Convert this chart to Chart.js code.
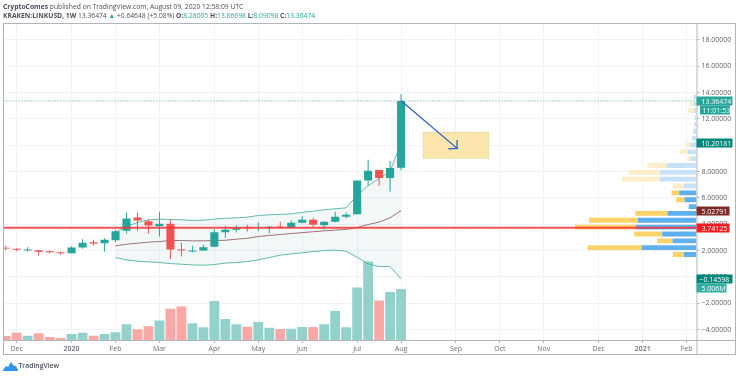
<!DOCTYPE html>
<html>
<head>
<meta charset="utf-8">
<title>KRAKEN:LINKUSD, 1W</title>
<script src="https://cdn.jsdelivr.net/npm/chart.js@4/dist/chart.umd.min.js"></script>
<style>
  html, body { margin: 0; padding: 0; background: #fff; overflow: hidden; }
  body { width: 736px; height: 376px; position: relative; font-family: "Open Sans", sans-serif; color: #4a4f5c; }
  #head1, #head2, #foot { position: absolute; white-space: nowrap; filter: blur(.3px); }
  #head1 { left: 3px; top: 1.5px; font-size: 6.75px; line-height: 10px; }
  #head2 { left: 3px; top: 10.5px; font-size: 6.75px; line-height: 10px; }
  #head2 i { font-style: normal; color: #26a69a; }
  #foot { left: 18.5px; top: 361px; font-size: 6.8px; font-weight: 600; line-height: 10px; }
  #logo { position: absolute; left: 3px; top: 361px; filter: blur(.3px); }
  #chart { position: absolute; left: 0; top: 0; filter: blur(.35px); }
</style>
</head>
<body>
<div id="head1"><b>CryptoComes</b> published on TradingView.com, August 09, 2020 12:58:09 UTC</div>
<div id="head2"><b>KRAKEN:LINKUSD, 1W</b> 13.36474 <i>&#9650;</i> +0.64648 (+5.08%) <b>O:</b><i>8.28005</i> <b>H:</b><i>13.86698</i> <b>L:</b><i>8.09098</i> <b>C:</b><i>13.36474</i></div>
<svg id="logo" width="15" height="10" viewBox="0 0 15 10"><path d="M0 9 L3 5 L5 6 L8 1 L11 5 L13 5 L15 9 Q15 10 14 10 L1 10 Q0 10 0 9 Z" fill="#2e95e8"/></svg>
<div id="foot">TradingView</div>
<canvas id="chart" width="736" height="376"></canvas>
<script>
// weekly candles
const opens  = [2.205,2.129,2.003,2.028,1.952,1.876,1.800,2.231,2.636,2.560,2.788,3.498,4.512,4.233,3.853,4.030,2.079,1.927,2.003,2.281,3.397,3.574,3.752,3.752,3.752,3.828,3.752,4.106,4.335,3.929,4.183,4.563,4.766,7.326,8.112,7.503,8.28005];
const closes = [2.155,2.053,2.079,1.901,1.876,1.800,2.231,2.586,2.535,2.814,3.473,4.436,4.284,3.904,4.030,2.079,2.003,2.003,2.256,3.397,3.574,3.726,3.701,3.777,3.802,3.777,4.106,4.335,3.954,4.183,4.563,4.715,7.326,8.061,7.503,8.264,13.36474];
const highs  = [2.357,2.155,2.256,2.028,1.977,1.901,2.332,2.864,2.814,2.940,3.574,4.867,4.867,4.360,4.943,4.360,2.611,2.357,2.433,3.625,3.878,3.929,3.954,4.132,3.878,4.183,4.284,4.613,4.487,4.233,4.943,4.918,7.326,8.897,8.112,8.796,13.86698];
const lows   = [2.028,1.952,1.927,1.622,1.774,1.673,1.774,2.129,2.357,1.927,2.636,3.295,3.498,3.295,3.067,1.369,1.546,1.876,1.977,2.256,2.966,3.371,3.447,3.473,3.295,3.752,3.752,4.081,3.777,3.574,4.157,4.436,4.740,6.920,6.920,6.489,8.09098];
// volume in millions
const volumes = [0.40,0.72,0.42,0.65,0.30,0.20,0.59,0.72,0.42,0.59,0.75,1.54,1.05,1.34,1.90,3.07,3.27,1.63,1.24,3.82,2.06,1.54,1.31,1.76,1.21,1.08,1.11,1.27,1.27,1.54,2.84,1.24,5.13,7.68,3.86,4.71,5.006];
// bollinger bands, start at week 10
const bbStart = 10;
const bbUpper = [3.397,3.828,4.132,4.335,4.385,4.360,4.335,4.284,4.309,4.385,4.450,4.487,4.537,4.664,4.715,4.740,4.791,4.892,4.994,5.095,5.171,5.247,6.210,6.920,7.478,8.010,10.20181];
const bbBasis = [2.357,2.484,2.560,2.636,2.687,2.763,2.763,2.738,2.738,2.763,2.780,2.864,2.930,3.067,3.150,3.220,3.295,3.360,3.430,3.498,3.550,3.600,3.750,3.980,4.157,4.487,5.02791];
const bbLower = [1.470,1.293,1.191,1.140,1.090,1.014,0.963,0.913,0.887,0.938,1.050,1.090,1.166,1.293,1.470,1.648,1.749,1.825,1.927,2.000,2.028,1.950,1.495,0.989,0.786,0.786,-0.14598];
// volume profile rows, bottom to top
const profilePrices = [1.70,2.22,2.74,3.26,3.78,4.30,4.82,5.34,5.86,6.38,6.90,7.42,7.94,8.46,8.98,9.50,10.02,10.54,11.06,11.58,12.10,12.62,13.14,13.66];
const profileUp     = [12.7,55,24,34.3,60.7,58.7,29,7.7,12,17.3,12.7,36.7,36.7,29.7,5.7,8.7,5.7,4.3,3.3,2.3,1.7,2.7,2.7,3];
const profileDown   = [11,54,15.3,28,60.7,48.7,32.3,0,8.3,7.7,11,37.7,31,19.3,3.3,8,5.3,0,0,0,0,5.7,4,0];
const valueAreaRows = 10;
// x axis labels at week indexes
const monthWeeks  = [1,6,10,14,19,23,27,32,36,41,45,49,54,58,62];
const monthLabels = ['Dec','2020','Feb','Mar','Apr','May','Jun','Jul','Aug','Sep','Oct','Nov','Dec','2021','Feb'];
const boldLabels  = ['2020','2021'];
const priceTicks  = [18,16,14,12,10,8,6,4,2,0,-2,-4];
// drawings
const lastPrice = 13.36474, hLevel = 3.74125;
const arrowPath = [[36,13.38],[41.1,9.76],[40.3,9.72],[41.1,9.76],[41.1,10.4]];
const targetBox = { x: 41, low: 8.98, high: 11.03 };

const UP = '#26a69a', DOWN = '#ef5350';
const xMin = -0.2, xMax = 62.9, yMin = -4.79, yMax = 19.24;
const weeks = opens.map((_, i) => i);
const isUp = i => closes[i] >= opens[i];
const band = arr => arr.map((y, i) => ({ x: i + bbStart, y }));

// price tags on the axis
const tags = [
  { y: lastPrice, text: '13.36474', bg: '#26a69a', w: 36 },
  { y: 12.66, text: '11:01:53', bg: '#26a69a', dx: 3.5, w: 30, pad: 2.5 },
  { y: 10.20181, text: '10.20181', bg: '#00897b', w: 36 },
  { y: 5.02791, text: '5.02791', bg: '#7f2b2b', w: 33 },
  { y: hLevel, text: '3.74125', bg: '#fb1a1f', w: 33 },
  { y: -0.14598, text: '\u22120.14598', bg: '#00897b', w: 36, pad: 3 },
  { y: -0.85, text: '5.006M', bg: '#2fb0a0', w: 30 }
];
const tagPlugin = {
  id: 'tags',
  afterDraw(chart) {
    const c = chart.ctx, s = chart.scales.y, x0 = chart.chartArea.right;
    c.save();
    c.font = '7px "Open Sans"';
    c.textBaseline = 'middle';
    tags.forEach(t => {
      const y = Math.round(s.getPixelForValue(t.y));
      const dx = t.dx || 0;
      c.fillStyle = t.bg;
      c.fillRect(x0 + dx, y - 4.5, t.w, 9);
      c.fillStyle = '#fff';
      c.fillText(t.text, x0 + (t.pad || 5) + dx, y + .5);
    });
    c.restore();
  }
};
// grey frame round the pane and the price scale
const framePlugin = {
  id: 'frame',
  afterDatasetsDraw(chart) {
    const c = chart.ctx, a = chart.chartArea;
    c.save();
    c.strokeStyle = '#b2b5be';
    c.lineWidth = 1;
    c.strokeRect(3.5, 23.5, 732, 331);
    c.beginPath();
    c.moveTo(a.right + .5, 23.5); c.lineTo(a.right + .5, 355);
    c.moveTo(3.5, a.bottom + .5); c.lineTo(735.5, a.bottom + .5);
    c.stroke();
    c.restore();
  }
};

new Chart(document.getElementById('chart').getContext('2d'), {
  data: {
    datasets: [
      { type: 'line', order: 1, data: arrowPath.map(p => ({ x: p[0], y: p[1] })), borderColor: '#2962cc', borderWidth: 1.3, pointRadius: 0, tension: 0 },
      { type: 'line', order: 2, data: [{ x: xMin, y: hLevel }, { x: xMax, y: hLevel }], borderColor: 'rgba(244,50,55,.85)', borderWidth: 2, pointRadius: 0 },
      { type: 'line', order: 3, data: [{ x: xMin, y: lastPrice }, { x: xMax, y: lastPrice }], borderColor: '#3fa99e', borderWidth: 1, borderDash: [1, 2], pointRadius: 0 },
      { type: 'bar', order: 4, grouped: false, data: [{ x: targetBox.x, y: [targetBox.low, targetBox.high] }], backgroundColor: '#fde6ae', borderColor: '#d3cf7c', borderWidth: 1, borderSkipped: false, barPercentage: 7.6 },
      { type: 'bar', order: 5, grouped: false, data: weeks.map(i => ({ x: i, y: [opens[i], closes[i]] })), backgroundColor: weeks.map(i => isUp(i) ? UP : DOWN), barPercentage: .92 },
      { type: 'bar', order: 6, grouped: false, data: weeks.map(i => ({ x: i, y: [lows[i], highs[i]] })), backgroundColor: weeks.map(i => isUp(i) ? UP : DOWN), barPercentage: .115 },
      { type: 'line', order: 7, data: band(bbUpper), borderColor: '#66b9ae', borderWidth: 1, pointRadius: 0, fill: '+2', backgroundColor: 'rgba(38,140,140,.06)' },
      { type: 'line', order: 8, data: band(bbBasis), borderColor: '#a86f6f', borderWidth: 1, pointRadius: 0 },
      { type: 'line', order: 9, data: band(bbLower), borderColor: '#66b9ae', borderWidth: 1, pointRadius: 0 },
      { type: 'bar', order: 10, grouped: false, yAxisID: 'v', data: weeks.map(i => ({ x: i, y: volumes[i] })), backgroundColor: weeks.map(i => isUp(i) ? '#92d2cb' : '#f9a8a6'), barPercentage: 1.12 },
      // volume profile, horizontal bars hanging off the price axis
      { type: 'bar', order: 11, grouped: false, indexAxis: 'y', xAxisID: 'xp', yAxisID: 'yp', data: profilePrices.map((y, i) => ({ y, x: [0, profileUp[i]] })), backgroundColor: profilePrices.map((_, i) => i < valueAreaRows ? '#5fb0ee' : '#c6e2f8'), barPercentage: .88 },
      { type: 'bar', order: 12, grouped: false, indexAxis: 'y', xAxisID: 'xp', yAxisID: 'yp', data: profilePrices.map((y, i) => ({ y, x: [profileUp[i], profileUp[i] + profileDown[i]] })), backgroundColor: profilePrices.map((_, i) => i < valueAreaRows ? '#fdd268' : '#fdeec9'), barPercentage: .88 }
    ]
  },
  options: {
    responsive: false,
    animation: false,
    layout: { padding: { left: 3.5, top: 23.5, right: 0, bottom: 21 } },
    plugins: { legend: { display: false }, tooltip: { enabled: false } },
    scales: {
      x: {
        type: 'linear', position: 'bottom', offset: false, min: xMin, max: xMax,
        afterBuildTicks: axis => { axis.ticks = monthWeeks.map(value => ({ value })); },
        afterFit: axis => { axis.height = 15; },
        grid: { offset: false, color: '#f1f3f8', tickColor: '#b2b5be', tickLength: 3 },
        border: { display: false },
        ticks: {
          autoSkip: false, maxRotation: 0, padding: 2, color: '#6a6d78',
          font: ctx => ({ size: 7, family: '"Open Sans"', weight: boldLabels.includes(monthLabels[ctx.index]) ? '600' : '400' }),
          callback: (v, i) => monthLabels[i]
        }
      },
      y: {
        position: 'right', offset: false, min: yMin, max: yMax,
        afterBuildTicks: axis => { axis.ticks = priceTicks.map(value => ({ value })); },
        grid: { color: '#f1f3f8', tickColor: '#b2b5be', tickLength: 3 },
        border: { display: false },
        afterFit: axis => { axis.width = 39.5; },
        ticks: { padding: 2, color: '#5d606b', font: { size: 7, family: '"Open Sans"' }, callback: v => (v < 0 ? '\u2212' : '') + Math.abs(v).toFixed(5) }
      },
      v: { axis: 'y', display: false, offset: false, min: 0, max: 31 },
      yp: { axis: 'y', type: 'linear', display: false, offset: false, min: yMin, max: yMax },
      xp: { axis: 'x', type: 'linear', display: false, offset: false, reverse: true, min: 0, max: 693 }
    }
  },
  plugins: [framePlugin, tagPlugin]
});
</script>
</body>
</html>
